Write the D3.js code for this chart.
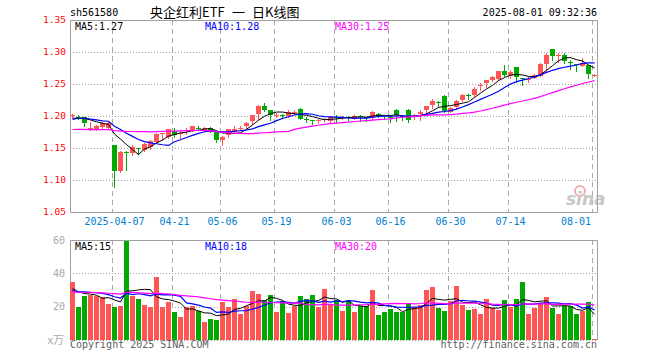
<!DOCTYPE html>
<html>
<head>
<meta charset="utf-8">
<script src="https://cdn.jsdelivr.net/npm/d3@7"></script>
<style>
  html, body { margin: 0; padding: 0; background: #fff; }
  svg { display: block; }
</style>
</head>
<body>
<svg width="660" height="360"></svg>
<script>
// trading days shown on the chart
const dates = [
  '03-26','03-27','03-28','03-31','04-01','04-02','04-03','04-07','04-08','04-09',
  '04-10','04-11','04-14','04-15','04-16','04-17','04-18','04-21','04-22','04-23',
  '04-24','04-25','04-28','04-29','04-30','05-06','05-07','05-08','05-09','05-12',
  '05-13','05-14','05-15','05-16','05-19','05-20','05-21','05-22','05-23','05-26',
  '05-27','05-28','05-29','05-30','06-03','06-04','06-05','06-06','06-09','06-10',
  '06-11','06-12','06-13','06-16','06-17','06-18','06-19','06-20','06-23','06-24',
  '06-25','06-26','06-27','06-30','07-01','07-02','07-03','07-04','07-07','07-08',
  '07-09','07-10','07-11','07-14','07-15','07-16','07-17','07-18','07-21','07-22',
  '07-23','07-24','07-25','07-28','07-29','07-30','07-31','08-01'
];
const opens = [
  1.200,1.199,1.198,1.181,1.180,1.183,1.181,1.154,1.113,1.143,
  1.142,1.150,1.148,1.152,1.160,1.172,1.167,1.176,1.172,1.176,
  1.178,1.182,1.179,1.182,1.175,1.163,1.170,1.175,1.180,1.184,
  1.191,1.203,1.216,1.210,1.201,1.202,1.200,1.205,1.211,1.196,
  1.193,1.192,1.194,1.192,1.199,1.197,1.198,1.196,1.200,1.198,
  1.197,1.203,1.201,1.199,1.210,1.200,1.210,1.200,1.204,1.209,
  1.217,1.222,1.232,1.207,1.215,1.225,1.233,1.232,1.246,1.252,
  1.257,1.257,1.271,1.262,1.276,1.259,1.257,1.260,1.264,1.282,
  1.304,1.295,1.296,1.285,1.281,1.279,1.279,1.263
];
const highs = [
  1.203,1.201,1.199,1.190,1.186,1.190,1.192,1.155,1.145,1.145,
  1.155,1.150,1.158,1.162,1.173,1.174,1.180,1.181,1.178,1.181,
  1.185,1.184,1.183,1.183,1.176,1.168,1.180,1.185,1.185,1.190,
  1.202,1.217,1.221,1.210,1.204,1.203,1.209,1.210,1.212,1.198,
  1.194,1.195,1.197,1.200,1.202,1.200,1.200,1.201,1.201,1.199,
  1.208,1.205,1.202,1.201,1.211,1.202,1.211,1.203,1.210,1.216,
  1.226,1.224,1.233,1.214,1.225,1.234,1.234,1.246,1.252,1.257,
  1.263,1.271,1.279,1.272,1.277,1.260,1.261,1.265,1.283,1.298,
  1.305,1.298,1.298,1.287,1.282,1.290,1.280,1.265
];
const lows = [
  1.198,1.195,1.184,1.178,1.178,1.182,1.179,1.089,1.112,1.116,
  1.139,1.140,1.145,1.149,1.158,1.164,1.166,1.167,1.165,1.172,
  1.177,1.178,1.178,1.175,1.159,1.155,1.167,1.173,1.178,1.182,
  1.188,1.194,1.208,1.194,1.198,1.197,1.199,1.203,1.195,1.191,
  1.188,1.189,1.192,1.191,1.191,1.195,1.194,1.195,1.192,1.192,
  1.196,1.199,1.195,1.190,1.192,1.194,1.191,1.195,1.194,1.201,
  1.212,1.215,1.206,1.206,1.212,1.224,1.226,1.231,1.241,1.246,
  1.255,1.256,1.262,1.260,1.253,1.249,1.253,1.259,1.263,1.271,
  1.288,1.285,1.283,1.273,1.270,1.278,1.259,1.262
];
const closes = [
  1.201,1.198,1.189,1.182,1.185,1.189,1.189,1.1135,1.143,1.142,
  1.151,1.149,1.157,1.161,1.172,1.173,1.179,1.170,1.174,1.178,
  1.184,1.181,1.182,1.176,1.162,1.167,1.179,1.179,1.182,1.189,
  1.201,1.216,1.210,1.202,1.202,1.201,1.207,1.206,1.196,1.195,
  1.192,1.193,1.195,1.199,1.198,1.198,1.197,1.200,1.199,1.197,
  1.207,1.202,1.200,1.198,1.202,1.199,1.195,1.201,1.207,1.215,
  1.223,1.221,1.209,1.213,1.224,1.233,1.232,1.242,1.248,1.256,
  1.261,1.270,1.265,1.268,1.261,1.257,1.258,1.264,1.282,1.296,
  1.293,1.296,1.287,1.284,1.280,1.283,1.265,1.264
];
// volume, 万手
const volumes = [
  35,19.6,26.6,26.8,26.4,25.6,21.8,19.6,20.6,59.2,
  26.2,24.8,21.2,19.6,38,19.6,23,16.6,13.6,19.8,
  20.2,17.2,10.6,12.8,12.2,22.6,19.6,24.8,15.8,20.2,
  29.2,27.8,23.8,27.2,17,23.2,16.4,20.4,26.6,24.8,
  27.2,19.6,30.8,21.8,23.8,17.6,23.6,17,20.6,20.6,
  30.2,15.2,17,18.8,17,16.6,22.4,19.6,21.2,30,
  31.8,19.2,17.4,23.4,32.4,21,18,18.6,15.6,24.6,
  19,18,24,20,24.6,34.8,15.6,19.4,22,25.8,
  19.4,15.6,20.4,20.4,15.6,17.4,22.8,0.8
];
// sessions before the window, only feed the moving averages (estimated from the MA lines)
const priorCloses = [
  1.190,1.192,1.188,1.190,1.186,1.188,1.166,1.161,1.156,1.158,
  1.154,1.161,1.164,1.166,1.162,1.164,1.168,1.166,1.168,1.171,
  1.180,1.185,1.200,1.198,1.202,1.196,1.192,1.194,1.199
];
const priorVolumes = [
  27,30,26,29,31,28,25,30,29,27,32,28,26,29,31,27,28,30,26,29,
  28,27,30,28,31,29,32,28,30
];
const tickDates = ['04-07','04-21','05-06','05-19','06-03','06-16','06-30','07-14','08-01'];
const priceTicks = [1.05, 1.10, 1.15, 1.20, 1.25, 1.30, 1.35];
const volTicks = [20, 40, 60];
const maPeriods = [5, 10, 30];
const maColors = ['#000000', '#0000ff', '#ff00ff'];

const mono = 'DejaVu Sans Mono, monospace';
const red = '#ff5555', green = '#00a800';

const svg = d3.select('svg');
svg.selectAll('*').remove();

const left = 70, right = 597;
const main = { top: 20, bottom: 212 };
const vol = { top: 240, bottom: 340 };

const x = d3.scaleBand()
  .domain(dates)
  .range([left - 0.5, left - 0.5 + dates.length * 6])
  .paddingInner(1 / 6)
  .paddingOuter(1 / 12);
const cx = d => x(d) + x.bandwidth() / 2;

const y = d3.scaleLinear().domain([1.05, 1.35]).range([main.bottom, main.top]);
const yv = d3.scaleLinear().domain([0, 60]).range([vol.bottom, vol.top]);

// moving averages over prior + visible sessions
function movingAvg(prior, values, n) {
  const all = prior.concat(values);
  return values.map((v, i) => d3.mean(all.slice(prior.length + i - n + 1, prior.length + i + 1)));
}
const priceMA = maPeriods.map(n => movingAvg(priorCloses, closes, n));
const volMA = maPeriods.map(n => movingAvg(priorVolumes, volumes, n));
const last = a => a[a.length - 1];

const candles = dates.map((d, i) => ({
  date: d, open: opens[i], high: highs[i], low: lows[i], close: closes[i], vol: volumes[i],
  up: closes[i] >= opens[i]
}));

// ---- header
svg.append('text').attr('x', 70).attr('y', 16)
  .style('font', `10px ${mono}`).text('sh561580');
const title = svg.append('text').attr('y', 17)
  .style('font', '13px "Noto Sans CJK SC", sans-serif');
[['央企红利ETF', 150], ['一', 232], ['日K线图', 252]].forEach(([t, px]) => {
  title.append('tspan').attr('x', px).text(t);
});
svg.append('text').attr('x', right).attr('y', 16).attr('text-anchor', 'end')
  .style('font', `10px ${mono}`).text('2025-08-01 09:32:36');

// ---- grid
const grid = svg.append('g');
priceTicks.slice(1, -1).forEach(t => {
  grid.append('line')
    .attr('x1', left).attr('x2', right)
    .attr('y1', Math.round(y(t)) + 0.5).attr('y2', Math.round(y(t)) + 0.5)
    .attr('stroke', '#a0a0a0').attr('stroke-dasharray', '1,2');
});
volTicks.slice(0, -1).concat([0]).forEach(t => {
  grid.append('line')
    .attr('x1', left).attr('x2', right)
    .attr('y1', Math.round(yv(t)) + 0.5).attr('y2', Math.round(yv(t)) + 0.5)
    .attr('stroke', '#a0a0a0').attr('stroke-dasharray', '1,2');
});
tickDates.forEach(d => {
  [[main.top, main.bottom], [vol.top, vol.bottom]].forEach(([t, b]) => {
    grid.append('line')
      .attr('x1', x(d) + 0.5).attr('x2', x(d) + 0.5)
      .attr('y1', t).attr('y2', b)
      .attr('stroke', '#a8a8a8').attr('stroke-dasharray', '5,4');
  });
});

// sina watermark
const logo = svg.append('g').attr('transform', 'translate(566,205)');
logo.append('circle').attr('cx', 14).attr('cy', -14).attr('r', 5)
  .attr('fill', 'none').attr('stroke', '#f4b0b0').attr('stroke-width', 2);
logo.append('text').attr('x', 0).attr('y', 0)
  .style('font', 'italic bold 17px "DejaVu Sans", sans-serif')
  .attr('fill', '#c8c8c8').text('sina');

// ---- frames
svg.append('path')
  .attr('d', `M${left + 0.5},${main.top + 0.5}H${right + 0.5}V${main.bottom + 0.5}H${left + 0.5}Z`)
  .attr('fill', 'none').attr('stroke', '#a0a0a0');
svg.append('path')
  .attr('d', `M${left + 0.5},${vol.bottom}V${vol.top + 0.5}H${right + 0.5}V${vol.bottom}`)
  .attr('fill', 'none').attr('stroke', '#a0a0a0');

// ---- axis labels
svg.append('g').selectAll('text').data(priceTicks).enter().append('text')
  .attr('x', 66).attr('y', d => y(d)).attr('dy', '0.35em')
  .attr('text-anchor', 'end').attr('fill', '#ff0000')
  .style('font', `9.5px ${mono}`).text(d => d.toFixed(2));

svg.append('g').selectAll('text').data(tickDates).enter().append('text')
  .attr('x', d => Math.min(cx(d), 576))
  .attr('y', 225).attr('text-anchor', 'middle').attr('fill', '#0080d0')
  .style('font', `10px ${mono}`)
  .text(d => d === '04-07' ? '2025-' + d : d);

svg.append('g').selectAll('text').data(volTicks).enter().append('text')
  .attr('x', 65).attr('y', d => yv(d)).attr('dy', '0.35em')
  .attr('text-anchor', 'end').attr('fill', '#a8a8a8')
  .style('font', `10px ${mono}`).text(d => d);
svg.append('text').attr('x', 64).attr('y', 344).attr('text-anchor', 'end')
  .attr('fill', '#a8a8a8').style('font', '11px "Noto Sans CJK SC", sans-serif').text('x万');

// ---- candles
const cg = svg.append('g');
cg.selectAll('line').data(candles).enter().append('line')
  .attr('x1', d => cx(d.date)).attr('x2', d => cx(d.date))
  .attr('y1', d => Math.round(y(d.high))).attr('y2', d => Math.round(y(d.low)) + 1)
  .attr('stroke', d => d.up ? red : green);
cg.selectAll('rect').data(candles).enter().append('rect')
  .attr('x', d => x(d.date))
  .attr('width', x.bandwidth())
  .attr('y', d => Math.round(y(Math.max(d.open, d.close))))
  .attr('height', d => Math.max(1, Math.round(Math.abs(y(d.open) - y(d.close)))))
  .attr('fill', d => d.up ? red : green);

// ---- volume bars
svg.append('g').selectAll('rect').data(candles).enter().append('rect')
  .attr('x', d => x(d.date))
  .attr('width', x.bandwidth())
  .attr('y', d => Math.round(yv(d.vol)))
  .attr('height', d => vol.bottom - Math.round(yv(d.vol)))
  .attr('fill', d => d.up ? red : green);

// ---- moving average lines
const priceLine = d3.line().x((d, i) => cx(dates[i])).y(d => y(d));
const volLine = d3.line().x((d, i) => cx(dates[i])).y(d => yv(d));
priceMA.forEach((m, k) => {
  svg.append('path').attr('d', priceLine(m))
    .attr('fill', 'none').attr('stroke', maColors[k]).attr('stroke-width', k === 0 ? 1 : 1.2);
});
volMA.forEach((m, k) => {
  svg.append('path').attr('d', volLine(m))
    .attr('fill', 'none').attr('stroke', maColors[k]).attr('stroke-width', k === 0 ? 1 : 1.2);
});

// ---- legends (values truncated like the source)
const legendX = [75, 205, 335];
maPeriods.forEach((n, k) => {
  svg.append('text').attr('x', legendX[k]).attr('y', 29.5)
    .attr('fill', maColors[k]).style('font', `10px ${mono}`)
    .text(`MA${n}:${(Math.floor(last(priceMA[k]) * 100) / 100).toFixed(2)}`);
  svg.append('text').attr('x', legendX[k]).attr('y', 250)
    .attr('fill', maColors[k]).style('font', `10px ${mono}`)
    .text(`MA${n}:${Math.floor(last(volMA[k]))}`);
});

// ---- footer
svg.append('text').attr('x', 70).attr('y', 348)
  .attr('fill', '#606060').style('font', `10px ${mono}`).text('Copyright 2025 SINA.COM');
svg.append('text').attr('x', right).attr('y', 348).attr('text-anchor', 'end')
  .attr('fill', '#606060').style('font', `10px ${mono}`).text('http://finance.sina.com.cn');
</script>
</body>
</html>
